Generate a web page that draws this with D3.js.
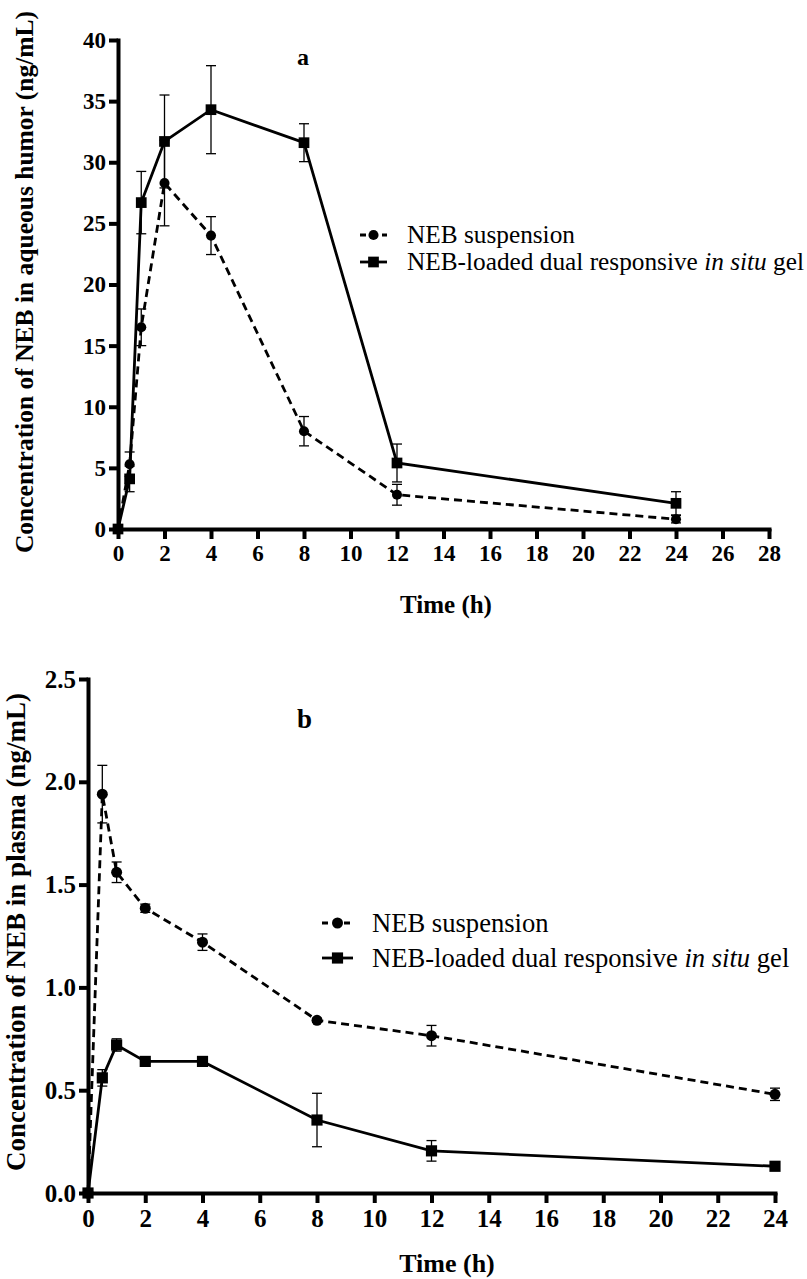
<!DOCTYPE html>
<html>
<head>
<meta charset="utf-8">
<script src="https://cdn.jsdelivr.net/npm/d3@7"></script>
<style>
  body { margin: 0; background: #fff; }
  svg text { font-family: "Liberation Serif", "Times New Roman", serif !important; fill: #000; }
  .tick text { font-weight: bold; }
  .titulo { font-weight: bold; }
</style>
</head>
<body>
<svg width="807" height="1279"></svg>
<script>
// tiempos de muestreo (h)
const tiempos = [0, 0.5, 1, 2, 4, 8, 12, 24];
const series = ['NEB suspension', 'NEB-loaded dual responsive in situ gel'];

// panel a: humor acuoso (ng/mL)
const humorSusp = [0, 5.3, 16.5, 28.3, 24.0, 8.0, 2.8, 0.8];
const humorSuspErr = [0, 1.0, 1.5, 3.5, 1.55, 1.2, 0.85, 0.3];
const humorGel = [0, 4.1, 26.7, 31.7, 34.3, 31.6, 5.4, 2.1];
const humorGelErr = [0, 1.05, 2.55, 3.8, 3.6, 1.55, 1.55, 0.95];
const ticksXa = d3.range(0, 29, 2);
const ticksYa = [0, 5, 10, 15, 20, 25, 30, 35, 40];

// panel b: plasma (ng/mL)
const plasmaSusp = [0, 1.94, 1.56, 1.385, 1.22, 0.84, 0.765, 0.48];
const plasmaSuspErr = [0, 0.14, 0.05, 0.02, 0.04, 0.01, 0.05, 0.03];
const plasmaGel = [0, 0.56, 0.72, 0.64, 0.64, 0.355, 0.205, 0.13];
const plasmaGelErr = [0, 0.04, 0.03, 0.01, 0.01, 0.13, 0.05, 0.01];
const ticksXb = d3.range(0, 25, 2);
const ticksYb = [0, 0.5, 1.0, 1.5, 2.0, 2.5];

const svg = d3.select('svg');

const panel = cfg => {
  const x = d3.scaleLinear().domain(cfg.xDom).range(cfg.xRange);
  const y = d3.scaleLinear().domain(cfg.yDom).range(cfg.yRange);
  const g = svg.append('g');

  const ejeX = g.append('g')
    .attr('transform', `translate(0, ${cfg.yRange[0]})`)
    .call(d3.axisBottom(x).tickValues(cfg.ticksX).tickFormat(d3.format('d'))
      .tickSize(10).tickSizeOuter(0).tickPadding(6));
  const ejeY = g.append('g')
    .attr('transform', `translate(${cfg.xRange[0]}, 0)`)
    .call(d3.axisLeft(y).tickValues(cfg.ticksY).tickFormat(cfg.fmtY)
      .tickSize(9).tickSizeOuter(0).tickPadding(3));
  [ejeX, ejeY].forEach(e => {
    e.attr('font-family', null).attr('font-size', null);
    e.select('.domain').attr('stroke-width', 4).attr('stroke-linecap', 'square');
    e.selectAll('.tick line').attr('stroke-width', 4);
    e.selectAll('.tick text').style('font-size', cfg.tickFont + 'px');
  });

  const datos = [
    { v: cfg.susp, e: cfg.suspErr, dash: '8,5', marca: 'circle' },
    { v: cfg.gel, e: cfg.gelErr, dash: null, marca: 'square' }
  ];

  datos.forEach(s => {
    const pts = tiempos.map((t, i) => ({ t, v: s.v[i], e: s.e[i] }));
    const linea = d3.line().x(d => x(d.t)).y(d => y(d.v));
    g.append('path').datum(pts)
      .attr('d', linea)
      .attr('fill', 'none').attr('stroke', '#000')
      .attr('stroke-width', 2.8)
      .attr('stroke-dasharray', s.dash);

    // barras de error
    const eb = g.append('g').selectAll('g').data(pts.filter(d => d.e > 0)).enter().append('g')
      .attr('stroke', '#000').attr('stroke-width', 1.3);
    eb.append('line')
      .attr('x1', d => x(d.t)).attr('x2', d => x(d.t))
      .attr('y1', d => y(d.v + d.e)).attr('y2', d => y(d.v - d.e));
    eb.append('line')
      .attr('x1', d => x(d.t) - 5).attr('x2', d => x(d.t) + 5)
      .attr('y1', d => y(d.v + d.e)).attr('y2', d => y(d.v + d.e));
    eb.append('line')
      .attr('x1', d => x(d.t) - 5).attr('x2', d => x(d.t) + 5)
      .attr('y1', d => y(d.v - d.e)).attr('y2', d => y(d.v - d.e));

    const simbolo = d3.symbol()
      .type(s.marca === 'circle' ? d3.symbolCircle : d3.symbolSquare)
      .size(s.marca === 'circle' ? cfg.circ : cfg.sq);
    g.append('g').selectAll('path').data(pts).enter().append('path')
      .attr('d', simbolo)
      .attr('transform', d => `translate(${x(d.t)}, ${y(d.v)})`)
      .attr('fill', '#000');
  });

  // leyenda
  const ley = g.append('g');
  [0, 1].forEach(i => {
    const yy = cfg.leg.y[i];
    const x0 = cfg.leg.x0, x1 = cfg.leg.x1, xm = (x0 + x1) / 2;
    ley.append('line')
      .attr('x1', x0).attr('x2', x1).attr('y1', yy).attr('y2', yy)
      .attr('stroke', '#000').attr('stroke-width', 2.8)
      .attr('stroke-dasharray', i === 0 ? '6,5' : null);
    ley.append('path')
      .attr('d', d3.symbol().type(i === 0 ? d3.symbolCircle : d3.symbolSquare)
        .size(i === 0 ? cfg.circ : cfg.sq)())
      .attr('transform', `translate(${xm}, ${yy})`);
    const t = ley.append('text')
      .attr('x', cfg.leg.tx).attr('y', yy + cfg.legFont * 0.33)
      .style('font-size', cfg.legFont + 'px');
    if (i === 0) {
      t.text(series[0]);
    } else {
      t.append('tspan').text('NEB-loaded dual responsive ');
      t.append('tspan').style('font-style', 'italic').text('in situ');
      t.append('tspan').text(' gel');
    }
  });

  // títulos
  g.append('text').attr('class', 'titulo')
    .attr('x', cfg.letra[0]).attr('y', cfg.letra[1])
    .style('font-size', cfg.letraFont + 'px')
    .text(cfg.letra[2]);
  g.append('text').attr('class', 'titulo')
    .attr('text-anchor', 'middle')
    .attr('x', cfg.tiempo[0]).attr('y', cfg.tiempo[1])
    .style('font-size', cfg.tiempo[2] + 'px')
    .text('Time (h)');
  g.append('text').attr('class', 'titulo')
    .attr('text-anchor', 'middle')
    .attr('transform', `translate(${cfg.yTit[0]}, ${cfg.yTit[1]}) rotate(-90)`)
    .style('font-size', cfg.yTit[2] + 'px')
    .text(cfg.yTit[3]);
};

panel({
  xDom: [0, 28], xRange: [118, 769],
  yDom: [0, 40], yRange: [529, 40],
  ticksX: ticksXa, ticksY: ticksYa, fmtY: d3.format('d'),
  tickFont: 23,
  susp: humorSusp, suspErr: humorSuspErr, gel: humorGel, gelErr: humorGelErr,
  circ: 80, sq: 115,
  leg: { x0: 360, x1: 387, tx: 407, y: [235, 262] }, legFont: 25.3,
  letra: [297, 65, 'a'], letraFont: 24,
  tiempo: [446, 613, 25],
  yTit: [33, 282, 25.5, 'Concentration of NEB in aqueous humor (ng/mL)']
});

panel({
  xDom: [0, 24], xRange: [88, 775],
  yDom: [0, 2.5], yRange: [1193, 679],
  ticksX: ticksXb, ticksY: ticksYb, fmtY: d3.format('.1f'),
  tickFont: 25,
  susp: plasmaSusp, suspErr: plasmaSuspErr, gel: plasmaGel, gelErr: plasmaGelErr,
  circ: 95, sq: 125,
  leg: { x0: 322, x1: 353, tx: 372, y: [923, 958] }, legFont: 26.6,
  letra: [297, 728, 'b'], letraFont: 27,
  tiempo: [447, 1272, 26],
  yTit: [25, 932, 27, 'Concentration of NEB in plasma (ng/mL)']
});
</script>
</body>
</html>
